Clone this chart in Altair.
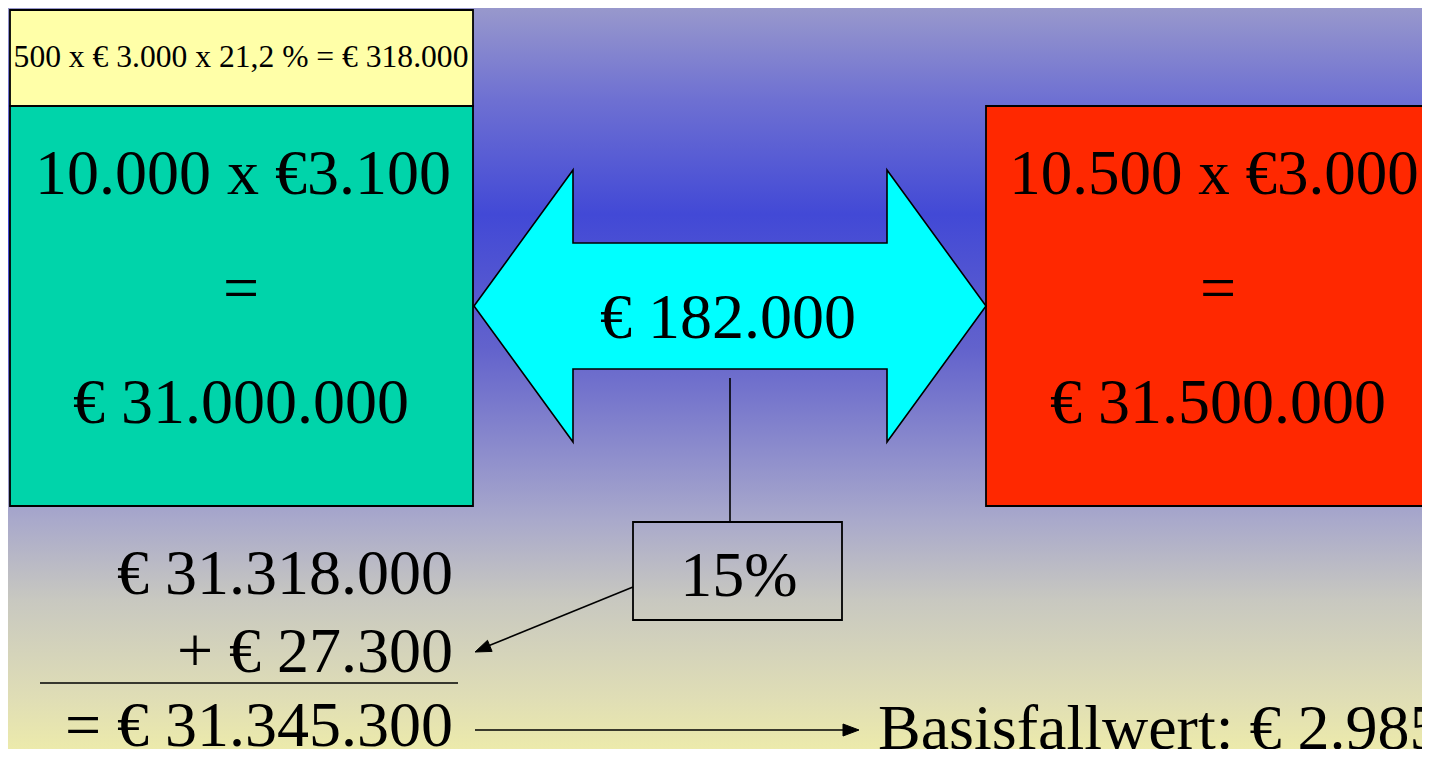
import altair as alt
import pandas as pd

# ---- frame (image pixel coordinates used as data space) ----
X_DOMAIN = [8, 1422]
Y_DOMAIN = [749, 8]

# ---- background gradient ----
bg_x1 = [8]
bg_x2 = [1422]
bg_y1 = [8]
bg_y2 = [749]
grad_offsets = [0.0, 0.124, 0.279, 0.458, 0.610, 0.691, 0.799, 0.934, 1.0]
grad_colors = ["#9898cc", "#6e70d2", "#4249d6", "#6262cc", "#9090cc",
               "#a9a9cb", "#c8c8c0", "#e0deb5", "#eceaab"]

# ---- boxes ----
box_name = ["formula", "left", "right", "pct"]
box_x1 = [10, 10, 986, 633]
box_x2 = [473, 473, 1440, 842]
box_y1 = [10, 106, 106, 522]
box_y2 = [106, 506, 506, 620]
box_fill = ["#ffffa8", "#00d4aa", "#ff2800", "transparent"]

# ---- double arrow polygon ----
arr_x = [474, 573, 573, 887, 887, 986, 887, 887, 573, 573]
arr_y = [306, 170, 243, 243, 170, 306, 442, 369, 369, 442]

# ---- connector lines ----
seg_x1 = [730, 40, 633, 475]
seg_y1 = [378, 683, 587, 730]
seg_x2 = [730, 458, 488, 845]
seg_y2 = [522, 683, 646, 730]

# ---- arrow heads (triangles) ----
head_id = ["h", "h", "h", "d", "d", "d"]
head_x = [859, 843, 843, 475, 492.1, 487.5]
head_y = [730, 724, 736, 652, 651.4, 640.3]

# ---- texts ----
ctext = ["500 x € 3.000 x 21,2 % = € 318.000", "10.000 x €3.100", "=", "€ 31.000.000",
         "10.500 x €3.000", "=", "€ 31.500.000", "€ 182.000", "15%"]
ctext_x = [241, 243, 241, 241, 1214, 1218, 1218, 728, 739]
ctext_y = [67, 194, 309, 423, 194, 309, 423, 338, 596]
ctext_size = [31.6, 64, 64, 64, 63, 64, 64, 64, 64]

rtext = ["€ 31.318.000", "+ € 27.300", "= € 31.345.300"]
rtext_x = [453, 453, 453]
rtext_y = [594, 672, 746]

ltext = ["Basisfallwert: € 2.985"]
ltext_x = [878]
ltext_y = [749]

FONT = "Liberation Serif"

xs = alt.Scale(domain=X_DOMAIN, nice=False, zero=False)
ys = alt.Scale(domain=Y_DOMAIN, nice=False, zero=False)

bg_df = pd.DataFrame({"x1": bg_x1, "x2": bg_x2, "y1": bg_y1, "y2": bg_y2})
gradient = alt.Gradient(
    gradient="linear",
    stops=[alt.GradientStop(color=c, offset=o) for c, o in zip(grad_colors, grad_offsets)],
    x1=0, x2=0, y1=0, y2=1,
)
background = alt.Chart(bg_df).mark_rect(fill=gradient, strokeWidth=0).encode(
    x=alt.X("x1:Q", scale=xs, axis=None), x2="x2:Q",
    y=alt.Y("y1:Q", scale=ys, axis=None), y2="y2:Q",
)

box_df = pd.DataFrame({"name": box_name, "x1": box_x1, "x2": box_x2,
                       "y1": box_y1, "y2": box_y2, "fill": box_fill})
boxes = alt.Chart(box_df).mark_rect(stroke="black", strokeWidth=1.8).encode(
    x=alt.X("x1:Q", scale=xs, axis=None), x2="x2:Q",
    y=alt.Y("y1:Q", scale=ys, axis=None), y2="y2:Q",
    fill=alt.Fill("fill:N", scale=None),
)

arr_df = pd.DataFrame({"x": arr_x, "y": arr_y, "i": list(range(len(arr_x)))})
big_arrow = alt.Chart(arr_df).mark_line(
    interpolate="linear-closed", fill="#00ffff", stroke="black", strokeWidth=1.6
).encode(
    x=alt.X("x:Q", scale=xs, axis=None),
    y=alt.Y("y:Q", scale=ys, axis=None),
    order=alt.Order("i:Q"),
)

seg_df = pd.DataFrame({"x1": seg_x1, "y1": seg_y1, "x2": seg_x2, "y2": seg_y2})
segments = alt.Chart(seg_df).mark_rule(color="black", strokeWidth=1.6).encode(
    x=alt.X("x1:Q", scale=xs, axis=None), x2="x2:Q",
    y=alt.Y("y1:Q", scale=ys, axis=None), y2="y2:Q",
)

head_df = pd.DataFrame({"id": head_id, "x": head_x, "y": head_y,
                        "i": list(range(len(head_x)))})
heads = alt.Chart(head_df).mark_line(
    interpolate="linear-closed", fill="black", stroke="black", strokeWidth=1
).encode(
    x=alt.X("x:Q", scale=xs, axis=None),
    y=alt.Y("y:Q", scale=ys, axis=None),
    detail="id:N",
    order=alt.Order("i:Q"),
)

c_df = pd.DataFrame({"t": ctext, "x": ctext_x, "y": ctext_y, "s": ctext_size})
ctexts = alt.Chart(c_df).mark_text(font=FONT, align="center", baseline="alphabetic",
                                   color="black").encode(
    x=alt.X("x:Q", scale=xs, axis=None),
    y=alt.Y("y:Q", scale=ys, axis=None),
    text="t:N",
    size=alt.Size("s:Q", scale=None),
)

r_df = pd.DataFrame({"t": rtext, "x": rtext_x, "y": rtext_y})
rtexts = alt.Chart(r_df).mark_text(font=FONT, align="right", baseline="alphabetic",
                                   fontSize=64, color="black").encode(
    x=alt.X("x:Q", scale=xs, axis=None),
    y=alt.Y("y:Q", scale=ys, axis=None),
    text="t:N",
)

l_df = pd.DataFrame({"t": ltext, "x": ltext_x, "y": ltext_y})
ltexts = alt.Chart(l_df).mark_text(font=FONT, align="left", baseline="alphabetic",
                                   fontSize=64, color="black").encode(
    x=alt.X("x:Q", scale=xs, axis=None),
    y=alt.Y("y:Q", scale=ys, axis=None),
    text="t:N",
)

chart = alt.layer(
    background, boxes, big_arrow, segments, heads, ctexts, rtexts, ltexts
).properties(
    width=1414, height=741, padding=0,
    autosize=alt.AutoSizeParams(type="none"),
).configure_view(strokeWidth=0)

chart.save("out.html", embed_options={"renderer": "svg", "actions": False})
